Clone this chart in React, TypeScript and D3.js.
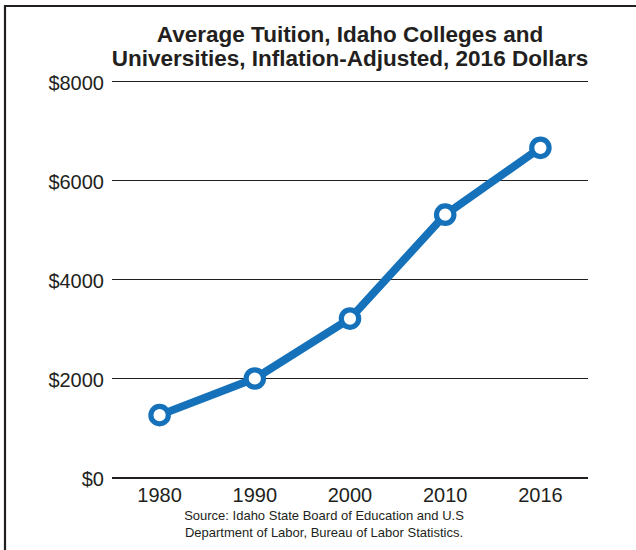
import { useEffect, useRef } from 'react';
import * as d3 from 'd3';

const YEARS = ['1980', '1990', '2000', '2010', '2016'];
const TUITION = [1250, 1990, 3200, 5300, 6650];
const Y_TICKS = [0, 2000, 4000, 6000, 8000];
const TITLE_LINES = ['Average Tuition, Idaho Colleges and', 'Universities, Inflation-Adjusted, 2016 Dollars'];
const SOURCE_LINES = ['Source: Idaho State Board of Education and U.S', 'Department of Labor, Bureau of Labor Statistics.'];

const WIDTH = 636;
const HEIGHT = 550;
const INK = '#231f20';
const BLUE = '#1572ba';

export default function App() {
  const svgRef = useRef<SVGSVGElement>(null);

  useEffect(() => {
    if (!svgRef.current) return;
    const svg = d3.select(svgRef.current);
    svg.selectAll('*').remove();

    const left = 112;
    const right = 588;

    const x = d3.scalePoint<string>().domain(YEARS).range([left, right]).padding(0.5);
    const y = d3.scaleLinear().domain([0, 8000]).range([477, 81]);

    // frame (left and top edges only)
    svg.append('path')
      .attr('d', `M5,${HEIGHT} V6 H${WIDTH}`)
      .attr('fill', 'none')
      .attr('stroke', INK)
      .attr('stroke-width', 2.2);

    // title
    svg.append('g')
      .selectAll('text')
      .data(TITLE_LINES)
      .join('text')
      .attr('x', 350)
      .attr('y', (_, i) => 41.5 + i * 24.5)
      .attr('text-anchor', 'middle')
      .attr('font-family', 'Liberation Sans, Arial, sans-serif')
      .attr('font-weight', 'bold')
      .attr('font-size', 22.5)
      .attr('fill', INK)
      .text(d => d);

    // gridlines + y labels
    const grid = svg.append('g');
    grid.selectAll('line')
      .data(Y_TICKS)
      .join('line')
      .attr('x1', left)
      .attr('x2', right)
      .attr('y1', d => y(d) + 0.5)
      .attr('y2', d => y(d) + 0.5)
      .attr('stroke', INK)
      .attr('stroke-width', d => (d === 0 ? 2 : 1.2))
      .attr('shape-rendering', 'crispEdges');

    grid.selectAll('text')
      .data(Y_TICKS)
      .join('text')
      .attr('x', 104)
      .attr('y', d => y(d) + 9)
      .attr('text-anchor', 'end')
      .attr('font-family', 'Liberation Sans, Arial, sans-serif')
      .attr('font-size', 20)
      .attr('fill', INK)
      .text(d => `$${d}`);

    // x labels
    svg.append('g')
      .selectAll('text')
      .data(YEARS)
      .join('text')
      .attr('x', d => x(d)!)
      .attr('y', 502)
      .attr('text-anchor', 'middle')
      .attr('font-family', 'Liberation Sans, Arial, sans-serif')
      .attr('font-size', 20)
      .attr('fill', INK)
      .text(d => d);

    // line
    const points = YEARS.map((yr, i) => [x(yr)!, y(TUITION[i])] as [number, number]);
    svg.append('path')
      .attr('d', d3.line()(points))
      .attr('fill', 'none')
      .attr('stroke', BLUE)
      .attr('stroke-width', 8)
      .attr('stroke-linejoin', 'round');

    svg.append('g')
      .selectAll('circle')
      .data(points)
      .join('circle')
      .attr('cx', d => d[0])
      .attr('cy', d => d[1])
      .attr('r', 8.7)
      .attr('fill', '#ffffff')
      .attr('stroke', BLUE)
      .attr('stroke-width', 5.2);

    // source
    svg.append('g')
      .selectAll('text')
      .data(SOURCE_LINES)
      .join('text')
      .attr('x', 324)
      .attr('y', (_, i) => 520 + i * 17)
      .attr('text-anchor', 'middle')
      .attr('font-family', 'Liberation Sans, Arial, sans-serif')
      .attr('font-size', 13)
      .attr('fill', INK)
      .text(d => d);
  }, []);

  return (
    <div style={{ position: 'absolute', left: 0, top: 0 }}>
      <svg ref={svgRef} width={WIDTH} height={HEIGHT} style={{ display: 'block', background: '#ffffff' }} />
    </div>
  );
}
